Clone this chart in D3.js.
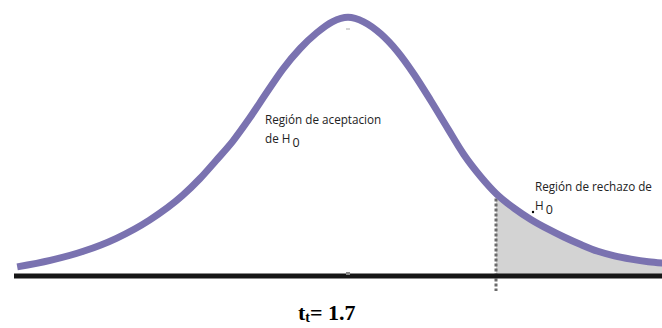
<!DOCTYPE html>
<html>
<head>
<meta charset="utf-8">
<script src="https://cdn.jsdelivr.net/npm/d3@7"></script>
<style>
  body { margin: 0; background: #fff; }
  svg { display: block; }
</style>
</head>
<body>
<div id="graph"></div>
<script>
// curve: t value and density
var tValues = [-3.80, -3.42, -3.04, -2.66, -2.28, -1.90, -1.70, -1.52, -1.32, -1.13, -0.93, -0.75, -0.55, -0.36, -0.18, 0,
               0.18, 0.38, 0.57, 0.76, 0.95, 1.15, 1.33, 1.53, 1.70, 1.91, 2.10, 2.30, 2.48, 2.68, 2.87, 3.06, 3.25, 3.45, 3.61];
var density = [0.014, 0.024, 0.038, 0.058, 0.086, 0.124, 0.150, 0.177, 0.208, 0.243, 0.283, 0.318, 0.350, 0.374, 0.391, 0.398,
               0.391, 0.372, 0.345, 0.310, 0.270, 0.226, 0.187, 0.152, 0.127, 0.104, 0.087, 0.072, 0.060, 0.048, 0.038, 0.031, 0.026, 0.022, 0.020];
var tCritical = 1.7;
var acceptLabel = ["Región de aceptacion", "de H"];
var rejectLabel = ["Región de rechazo de", "H"];
var subLabel = "0";

var width = 662, height = 328;

var data = tValues.map(function(t, i) { return {t: t, d: density[i]}; });

// set the ranges
var x = d3.scaleLinear().domain([0, tCritical]).range([348, 496]);
var y = d3.scaleLinear().domain([0, 0.4]).range([276, 16]);

var svg = d3.select("#graph").append("svg")
    .attr("width", width)
    .attr("height", height);

var line = d3.line()
    .x(function(d) { return x(d.t); })
    .y(function(d) { return y(d.d); })
    .curve(d3.curveMonotoneX);

// rejection region
var tail = data.filter(function(d) { return d.t >= tCritical; });
var area = d3.area()
    .x(function(d) { return x(d.t); })
    .y0(y(0))
    .y1(function(d) { return y(d.d); })
    .curve(d3.curveMonotoneX);

svg.append("path")
    .datum(tail)
    .attr("d", area)
    .style("fill", "#d3d3d3");

// dashed critical line
svg.append("line")
    .attr("x1", x(tCritical)).attr("x2", x(tCritical))
    .attr("y1", y(0.127)).attr("y2", 291)
    .style("stroke", "#6b6b6b")
    .style("stroke-width", 3)
    .style("stroke-dasharray", "3,2");

// base line
svg.append("line")
    .attr("x1", 14).attr("x2", width)
    .attr("y1", y(0)).attr("y2", y(0))
    .style("stroke", "#161616")
    .style("stroke-width", 5);

// small centre marks
svg.append("line")
    .attr("x1", x(0) - 2).attr("x2", x(0) + 2)
    .attr("y1", 29).attr("y2", 29)
    .style("stroke", "#aaa").style("stroke-width", 1);
svg.append("rect")
    .attr("x", x(0) - 2).attr("y", 272).attr("width", 4).attr("height", 3)
    .style("fill", "#888");

// the curve
svg.append("path")
    .datum(data)
    .attr("d", line)
    .style("fill", "none")
    .style("stroke", "#7a72b0")
    .style("stroke-width", 7);

// labels
var font = "'Open Sans', sans-serif";
function label(x0, y0, lines) {
  svg.append("text")
      .attr("x", x0).attr("y", y0)
      .style("font-family", font).style("font-size", "11.7px").style("fill", "#222")
      .text(lines[0]);
  var t = svg.append("text")
      .attr("x", x0).attr("y", y0 + 19)
      .style("font-family", font).style("font-size", "11.7px").style("fill", "#222");
  t.append("tspan").text(lines[1]);
  t.append("tspan").attr("dx", 2).attr("dy", 4).style("font-size", "12.5px").text(subLabel);
}
label(265, 124, acceptLabel);
label(535, 191, rejectLabel);

svg.append("circle")
    .attr("cx", 533).attr("cy", 212).attr("r", 1.2)
    .style("fill", "#000");

// t critical value
var tt = svg.append("text")
    .attr("x", 298).attr("y", 320)
    .style("font-family", "'Liberation Serif', 'Times New Roman', serif")
    .style("font-weight", "bold")
    .style("font-size", "22px")
    .style("fill", "#000");
tt.append("tspan").text("t");
tt.append("tspan").attr("dy", 2).style("font-size", "14px").text("t");
tt.append("tspan").attr("dy", -2).text("= " + tCritical);
</script>
</body>
</html>
